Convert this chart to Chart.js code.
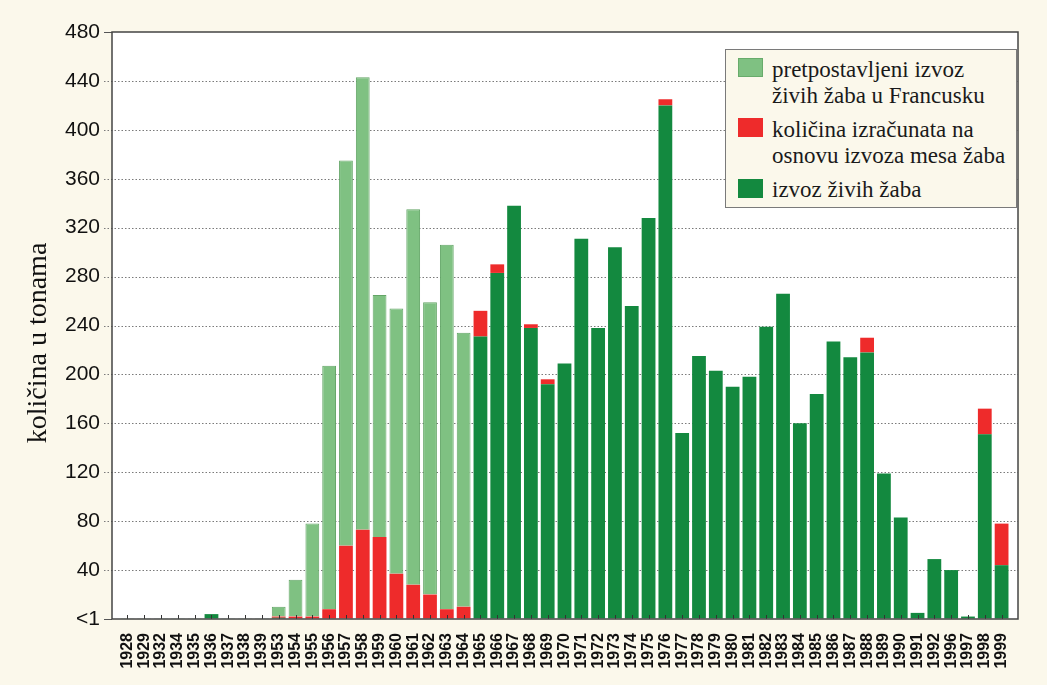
<!DOCTYPE html>
<html>
<head>
<meta charset="utf-8">
<script src="https://cdn.jsdelivr.net/npm/chart.js@4.4.1/dist/chart.umd.min.js"></script>
<style>
  html, body { margin: 0; padding: 0; background: #FBF8EB; }
  #wrap { position: relative; width: 1047px; height: 685px; background: #FBF8EB; }
  #c { position: absolute; left: 0; top: 0; }
  #legend { position: absolute; left: 725px; top: 49px; width: 290px; height: 157px;
            border: 1.5px solid #7a7a7a; background: #FBF8EB; }
  .sw { position: absolute; left: 738px; width: 25px; height: 19px; }
  .lt { position: absolute; left: 772px; font-family: "Liberation Serif", "Times New Roman", serif;
        font-size: 23px; line-height: 26px; color: #1a1a1a; white-space: nowrap; }
</style>
</head>
<body>
<div id="wrap">
  <canvas id="c" width="1047" height="685"></canvas>
  <div id="legend"></div>
  <div class="sw" style="top:58px;background:#7FC182;border:1px solid #68ab6b;box-sizing:border-box;"></div>
  <div class="lt" style="top:57px;">pretpostavljeni izvoz</div>
  <div class="lt" style="top:83px;">živih žaba u Francusku</div>
  <div class="sw" style="top:118px;background:#EE2B2B;"></div>
  <div class="lt" style="top:117px;">količina izračunata na</div>
  <div class="lt" style="top:143px;">osnovu izvoza mesa žaba</div>
  <div class="sw" style="top:179px;background:#13893F;"></div>
  <div class="lt" style="top:177px;">izvoz živih žaba</div>
</div>
<script>
const years = ['1928','1929','1932','1934','1935','1936','1937','1938','1939',
  '1953','1954','1955','1956','1957','1958','1959','1960','1961','1962','1963','1964',
  '1965','1966','1967','1968','1969','1970','1971','1972','1973','1974','1975','1976',
  '1977','1978','1979','1980','1981','1982','1983','1984','1985','1986','1987','1988',
  '1989','1990','1991','1992','1996','1997','1998','1999'];

// izvoz živih žaba (dark green, bottom of stack)
const liveExport = [0.5,0.5,0.5,0.5,0.5,4,0.5,0.5,0.5,
  1,0,0,0,0,0,0,0,0,0,0,0,
  231,283,338,238,192,209,311,238,304,256,328,420,
  152,215,203,190,198,239,266,160,184,227,214,218,
  119,83,5,49,40,2,151,44];

// količina izračunata na osnovu izvoza mesa žaba (red)
const meatBased = [0,0,0,0,0,0,0,0,0,
  1,2,2,8,60,73,67,37,28,20,8,10,
  21,7,0,3,4,0,0,0,0,0,0,5,
  0,0,0,0,0,0,0,0,0,0,0,12,
  0,0,0,0,0,0,21,34];

// pretpostavljeni izvoz živih žaba u Francusku (light green, top of stack)
const assumedFrance = [0,0,0,0,0,0,0,0,0,
  8,30,76,199,315,370,198,217,307,239,298,224,
  0,0,0,0,0,0,0,0,0,0,0,0,
  0,0,0,0,0,0,0,0,0,0,0,0,
  0,0,0,0,0,0,0,0];

const yTicks = [0,40,80,120,160,200,240,280,320,360,400,440,480];
const yTitle = 'količina u tonama';

const FRAME_L = 112, FRAME_R = 1018;

const framePlugin = {
  id: 'frame',
  beforeDraw(chart) {
    const {ctx, chartArea: a, scales} = chart;
    ctx.save();
    ctx.fillStyle = '#ffffff';
    ctx.fillRect(FRAME_L, a.top, FRAME_R - FRAME_L, a.bottom - a.top);
    ctx.strokeStyle = '#7a7a7a';
    ctx.lineWidth = 1;
    ctx.setLineDash([1.5, 2]);
    yTicks.forEach(v => {
      if (v === 0 || v === 480) return;
      const y = Math.round(scales.y.getPixelForValue(v)) + 0.5;
      ctx.beginPath();
      ctx.moveTo(FRAME_L - 8, y);
      ctx.lineTo(FRAME_R, y);
      ctx.stroke();
    });
    ctx.setLineDash([]);
    ctx.strokeStyle = '#555';
    [0,480].forEach(v => {
      const y = Math.round(scales.y.getPixelForValue(v)) + 0.5;
      ctx.beginPath(); ctx.moveTo(FRAME_L - 8, y); ctx.lineTo(FRAME_L, y); ctx.stroke();
    });
    ctx.translate(39, 343);
    ctx.rotate(-Math.PI / 2);
    ctx.fillStyle = '#111';
    ctx.font = '28px "Liberation Serif", "Times New Roman", serif';
    ctx.textAlign = 'center';
    ctx.textBaseline = 'middle';
    ctx.fillText(yTitle, 0, 0);
    ctx.restore();
  },
  afterDatasetsDraw(chart) {
    const {ctx, chartArea: a, scales} = chart;
    ctx.save();
    // small inner tick marks at each category
    ctx.strokeStyle = '#333';
    ctx.lineWidth = 1;
    years.forEach((_, i) => {
      const x = Math.round(scales.x.getPixelForTick(i)) + 0.5;
      ctx.beginPath(); ctx.moveTo(x, a.bottom); ctx.lineTo(x, a.bottom - 4); ctx.stroke();
    });
    ctx.strokeStyle = '#444';
    ctx.lineWidth = 1.5;
    ctx.strokeRect(FRAME_L, a.top, FRAME_R - FRAME_L, a.bottom - a.top);
    ctx.restore();
  }
};

new Chart(document.getElementById('c'), {
  type: 'bar',
  data: {
    labels: years,
    datasets: [
      { label: 'izvoz živih žaba', data: liveExport, backgroundColor: '#13893F',
        borderWidth: 0, barPercentage: 0.82, categoryPercentage: 1 },
      { label: 'količina izračunata na osnovu izvoza mesa žaba', data: meatBased, backgroundColor: '#EE2B2B',
        borderWidth: 0, barPercentage: 0.82, categoryPercentage: 1 },
      { label: 'pretpostavljeni izvoz živih žaba u Francusku', data: assumedFrance, backgroundColor: '#7FC182',
        borderColor: '#63a566', borderWidth: 1, borderSkipped: 'bottom',
        barPercentage: 0.82, categoryPercentage: 1 }
    ]
  },
  options: {
    responsive: false,
    animation: false,
    layout: { padding: { left: 0, right: 1047 - 1010, top: 32, bottom: 0 } },
    plugins: { legend: { display: false }, tooltip: { enabled: false } },
    scales: {
      x: {
        stacked: true,
        grid: { display: false },
        border: { display: false },
        ticks: { autoSkip: false, minRotation: 90, maxRotation: 90, padding: 6,
                 color: '#111', font: { family: 'Liberation Sans, Arial, sans-serif', size: 16, weight: 'bold' } },
        afterFit(s) { s.height = 66; }
      },
      y: {
        stacked: true,
        min: 0, max: 480,
        afterBuildTicks(s) { s.ticks = yTicks.map(v => ({ value: v })); },
        grid: { display: true, drawOnChartArea: false, drawTicks: true, tickLength: 15, color: 'rgba(0,0,0,0)' },
        border: { display: false },
        ticks: { padding: 4, color: '#111',
                 font: { family: 'Liberation Sans, Arial, sans-serif', size: 21 },
                 callback: (v) => v === 0 ? '<1' : String(v) },
        title: { display: false },
        afterFit(s) { s.width = 119; }
      }
    }
  },
  plugins: [framePlugin]
});
</script>
</body>
</html>
